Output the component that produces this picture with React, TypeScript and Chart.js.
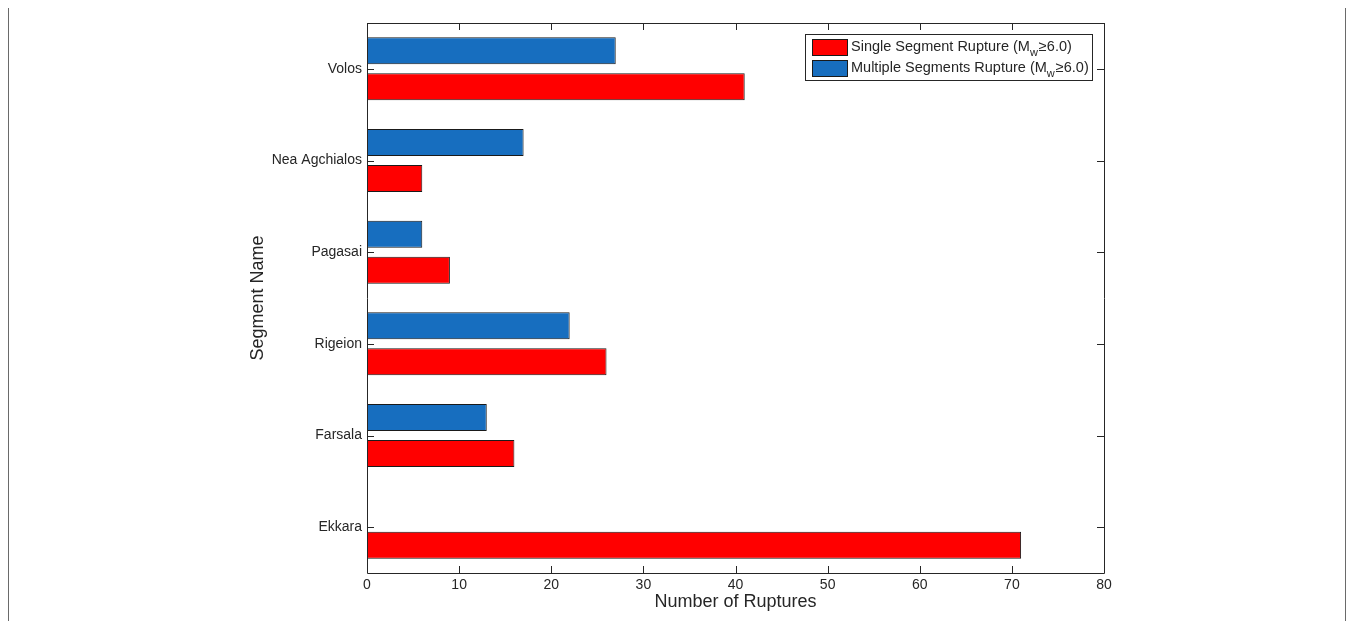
import React, { useEffect, useRef } from 'react';
import { Chart, registerables } from 'chart.js';

Chart.register(...registerables);

const categories = ['Volos', 'Nea Agchialos', 'Pagasai', 'Rigeion', 'Farsala', 'Ekkara'];
const singleSegment = [41, 6, 9, 26, 16, 71];
const multipleSegments = [27, 17, 6, 22, 13, 0];
const xTicks = [0, 10, 20, 30, 40, 50, 60, 70, 80];
const singleLabel = 'Single Segment Rupture (Mw≥6.0)';
const multipleLabel = 'Multiple Segments Rupture (Mw≥6.0)';
// legend text split as [before subscript, subscript, after subscript]
const singleLegendParts = ['Single Segment Rupture (M', 'w', '≥6.0)'];
const multipleLegendParts = ['Multiple Segments Rupture (M', 'w', '≥6.0)'];
const xTitle = 'Number of Ruptures';
const yTitle = 'Segment Name';

const RED = '#ff0000';
const BLUE = '#176ebf';
const INK = '#262626';
const FRAME = '#6a6a6a';
const FONT = "'Liberation Sans', Arial, Helvetica, sans-serif";

const CANVAS_W = 1336;
const CANVAS_H = 614;

const axesPlugin = {
  id: 'matlabAxes',
  beforeDraw(chart: any) {
    const { ctx, width } = chart;
    ctx.save();
    ctx.strokeStyle = FRAME;
    ctx.lineWidth = 1;
    ctx.beginPath();
    ctx.moveTo(0, 0.5);
    ctx.lineTo(width, 0.5);
    ctx.stroke();
    ctx.restore();
  },
  afterDatasetsDraw(chart: any) {
    const { ctx, chartArea, scales } = chart;
    const { left, right, top, bottom } = chartArea;
    const x = scales.x;
    const y = scales.y;
    const tl = 7;
    ctx.save();
    ctx.strokeStyle = INK;
    ctx.lineWidth = 1;
    ctx.beginPath();
    ctx.rect(Math.round(left) + 0.5, Math.round(top) + 0.5, Math.round(right - left), Math.round(bottom - top));
    ctx.stroke();
    ctx.beginPath();
    xTicks.forEach((v) => {
      const px = Math.round(x.getPixelForValue(v)) + 0.5;
      ctx.moveTo(px, bottom);
      ctx.lineTo(px, bottom - tl);
      ctx.moveTo(px, top);
      ctx.lineTo(px, top + tl);
    });
    categories.forEach((_, i) => {
      const py = Math.round(y.getPixelForValue(i)) + 0.5;
      ctx.moveTo(left, py);
      ctx.lineTo(left + tl, py);
      ctx.moveTo(right, py);
      ctx.lineTo(right - tl, py);
    });
    ctx.stroke();
    ctx.restore();
  },
  afterDraw(chart: any) {
    const { ctx, chartArea } = chart;
    const items = [
      { parts: singleLegendParts, color: chart.data.datasets[1].backgroundColor },
      { parts: multipleLegendParts, color: chart.data.datasets[0].backgroundColor },
    ];
    const mainFont = `14.5px ${FONT}`;
    const subFont = `11px ${FONT}`;
    ctx.save();
    const widths = items.map((it) => {
      ctx.font = mainFont;
      let w = ctx.measureText(it.parts[0]).width + ctx.measureText(it.parts[2]).width;
      ctx.font = subFont;
      w += ctx.measureText(it.parts[1]).width + 1;
      return w;
    });
    const textW = Math.max(...widths);
    const padL = 7, swW = 35, swH = 16, gap = 4, padR = 3;
    const boxW = Math.round(padL + swW + gap + textW + padR);
    const boxH = 46;
    const boxRight = Math.round(chartArea.right - 12);
    const boxLeft = boxRight - boxW;
    const boxTop = Math.round(chartArea.top + 11);
    ctx.fillStyle = '#ffffff';
    ctx.fillRect(boxLeft, boxTop, boxW, boxH);
    ctx.strokeStyle = INK;
    ctx.lineWidth = 1;
    ctx.strokeRect(boxLeft + 0.5, boxTop + 0.5, boxW, boxH);
    const rowCenters = [boxTop + 13, boxTop + 34];
    items.forEach((it, i) => {
      const cy = rowCenters[i];
      const sx = boxLeft + padL;
      ctx.fillStyle = it.color;
      ctx.fillRect(sx, cy - swH / 2, swW, swH);
      ctx.strokeStyle = '#1a1a1a';
      ctx.strokeRect(sx + 0.5, cy - swH / 2 + 0.5, swW, swH);
      let tx = sx + swW + gap;
      ctx.fillStyle = INK;
      ctx.textBaseline = 'middle';
      ctx.textAlign = 'left';
      ctx.font = mainFont;
      ctx.fillText(it.parts[0], tx, cy);
      tx += ctx.measureText(it.parts[0]).width;
      ctx.font = subFont;
      ctx.fillText(it.parts[1], tx, cy + 6);
      tx += ctx.measureText(it.parts[1]).width + 1;
      ctx.font = mainFont;
      ctx.fillText(it.parts[2], tx, cy);
    });
    ctx.restore();
  },
};

export default function App() {
  const canvasRef = useRef<HTMLCanvasElement | null>(null);

  useEffect(() => {
    if (!canvasRef.current) return;
    Chart.defaults.font.family = FONT;
    const chart = new Chart(canvasRef.current, {
      type: 'bar',
      data: {
        labels: categories,
        datasets: [
          {
            label: multipleLabel,
            data: multipleSegments,
            backgroundColor: BLUE,
            borderColor: '#1a1a1a',
            borderWidth: 1,
            borderSkipped: false,
            categoryPercentage: 0.786,
            barPercentage: 0.75,
          },
          {
            label: singleLabel,
            data: singleSegment,
            backgroundColor: RED,
            borderColor: '#1a1a1a',
            borderWidth: 1,
            borderSkipped: false,
            categoryPercentage: 0.786,
            barPercentage: 0.75,
          },
        ],
      },
      options: {
        indexAxis: 'y',
        responsive: false,
        animation: false,
        devicePixelRatio: 1,
        layout: { padding: { left: 238, right: 241, top: 16, bottom: 8 } },
        plugins: {
          legend: { display: false },
          tooltip: { enabled: false },
        },
        scales: {
          x: {
            type: 'linear',
            min: 0,
            max: 80,
            afterBuildTicks: (scale: any) => {
              scale.ticks = xTicks.map((v) => ({ value: v }));
            },
            afterFit: (scale: any) => {
              scale.height = 40;
            },
            grid: { display: false, drawTicks: false },
            border: { display: false },
            ticks: { color: INK, font: { size: 14 }, padding: 4, maxRotation: 0 },
            title: { display: true, text: xTitle, color: INK, font: { size: 18 }, padding: 0 },
          },
          y: {
            type: 'category',
            offset: true,
            afterFit: (scale: any) => {
              scale.width = 120;
            },
            grid: { display: false, drawTicks: false },
            border: { display: false },
            ticks: { color: INK, font: { size: 14 }, padding: 5 },
            title: { display: true, text: yTitle, color: INK, font: { size: 18 }, padding: 0 },
          },
        },
      },
      plugins: [axesPlugin],
    } as any);
    return () => chart.destroy();
  }, []);

  return (
    <div
      style={{
        position: 'relative',
        top: -1,
        width: CANVAS_W + 2,
        height: CANVAS_H + 1,
        borderLeft: `1px solid ${FRAME}`,
        borderRight: `1px solid ${FRAME}`,
        borderBottom: `1px solid ${FRAME}`,
        boxSizing: 'border-box',
        background: '#fff',
      }}
    >
      <canvas ref={canvasRef} width={CANVAS_W} height={CANVAS_H} style={{ display: 'block' }} />
    </div>
  );
}
